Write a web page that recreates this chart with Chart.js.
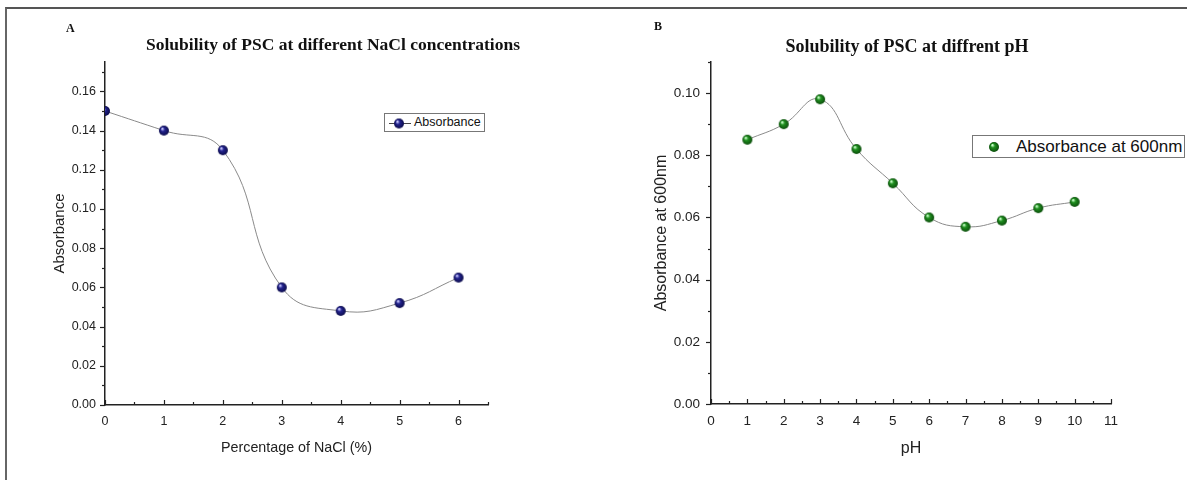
<!DOCTYPE html>
<html>
<head>
<meta charset="utf-8">
<script src="https://cdn.jsdelivr.net/npm/chart.js@4.4.1/dist/chart.umd.min.js"></script>
<style>
    body { margin: 0; background: #fff; }
    #wrap { position: relative; width: 1187px; height: 480px; overflow: hidden; font-family: Arial, "Liberation Sans", sans-serif; }
    #frame { position: absolute; left: 5px; top: 7px; width: 1200px; height: 500px; border-top: 2px solid #555; border-left: 2px solid #666; }
    canvas { position: absolute; top: 0; }
    .panel { position: absolute; font: bold 12px "Liberation Serif", "Times New Roman", serif; color: #111; }
    .title { position: absolute; font: bold 17.5px "Liberation Serif", "Times New Roman", serif; color: #111; white-space: nowrap; transform: translateX(-50%); }
    .legend { position: absolute; border: 1px solid #777; background: #fff; color: #111; white-space: nowrap; box-sizing: border-box; }
</style>
</head>
<body>
<div id="wrap">
    <div id="frame"></div>
    <canvas id="chartA" width="595" height="480" style="left:0;width:595px;height:480px"></canvas>
    <canvas id="chartB" width="592" height="480" style="left:595px;width:592px;height:480px"></canvas>

    <div class="panel" style="left:66px;top:21px">A</div>
    <div class="title" style="left:333px;top:34px">Solubility of PSC at different NaCl concentrations</div>
    <div class="legend" id="legA" style="left:384px;top:113px;width:101px;height:19px;font-size:12.5px;line-height:17px">
        <canvas id="legSymA" width="24" height="17" style="position:absolute;left:3px;top:0"></canvas>
        <span style="position:absolute;left:29px;top:0">Absorbance</span>
    </div>

    <div class="panel" style="left:654px;top:19px">B</div>
    <div class="title" style="left:907px;top:36px;font-size:18px">Solubility of PSC at diffrent pH</div>
    <div class="legend" id="legB" style="left:972px;top:135px;width:213px;height:23px;font-size:17px;line-height:21px">
        <canvas id="legSymB" width="16" height="21" style="position:absolute;left:13px;top:0"></canvas>
        <span style="position:absolute;left:43px;top:0">Absorbance at 600nm</span>
    </div>
</div>

<script>
// Panel A: NaCl concentration
const naclPct = [0, 1, 2, 3, 4, 5, 6];
const naclAbs = [0.150, 0.140, 0.130, 0.060, 0.048, 0.052, 0.065];
const naclTicks = [0, 1, 2, 3, 4, 5, 6];
const absTicksA = [0, 0.02, 0.04, 0.06, 0.08, 0.10, 0.12, 0.14, 0.16];

// Panel B: pH
const phVals = [1, 2, 3, 4, 5, 6, 7, 8, 9, 10];
const phAbs = [0.085, 0.090, 0.098, 0.082, 0.071, 0.060, 0.057, 0.059, 0.063, 0.065];
const phTicks = [0, 1, 2, 3, 4, 5, 6, 7, 8, 9, 10, 11];
const absTicksB = [0, 0.02, 0.04, 0.06, 0.08, 0.10];

// little shaded ball used as point marker
function makeBall(r, base, dark, light) {
    const c = document.createElement('canvas');
    c.width = c.height = r * 2 + 2;
    const ctx = c.getContext('2d');
    const g = ctx.createRadialGradient(r + 1 - r * 0.35, r + 1 - r * 0.4, r * 0.1, r + 1, r + 1, r);
    g.addColorStop(0, light);
    g.addColorStop(0.35, base);
    g.addColorStop(1, dark);
    ctx.fillStyle = g;
    ctx.beginPath();
    ctx.arc(r + 1, r + 1, r, 0, Math.PI * 2);
    ctx.fill();
    return c;
}

const ballA = makeBall(5, '#23238f', '#0c0c4a', '#c8c8ff');
const ballB = makeBall(5, '#1f8f1f', '#0b4d0b', '#c8ffc8');

function isOn(v, list) {
    return list.some(t => Math.abs(t - v) < 1e-9);
}

// draws major / minor tick marks through the scales
const tickMarks = {
    id: 'tickMarks',
    afterDraw(chart, args, opts) {
        const ctx = chart.ctx;
        const area = chart.chartArea;
        ctx.save();
        ctx.strokeStyle = '#222';
        ctx.lineWidth = 1.2;
        const xs = chart.scales.x, ys = chart.scales.y;
        opts.xMajor.forEach(v => {
            const px = Math.round(xs.getPixelForValue(v)) + 0.5;
            ctx.beginPath(); ctx.moveTo(px, area.bottom); ctx.lineTo(px, area.bottom - 5); ctx.stroke();
        });
        opts.xMinor.forEach(v => {
            const px = Math.round(xs.getPixelForValue(v)) + 0.5;
            ctx.beginPath(); ctx.moveTo(px, area.bottom); ctx.lineTo(px, area.bottom - 3); ctx.stroke();
        });
        opts.yMajor.forEach(v => {
            const py = Math.round(ys.getPixelForValue(v)) + 0.5;
            ctx.beginPath(); ctx.moveTo(area.left, py); ctx.lineTo(area.left - 5, py); ctx.stroke();
        });
        opts.yMinor.forEach(v => {
            const py = Math.round(ys.getPixelForValue(v)) + 0.5;
            ctx.beginPath(); ctx.moveTo(area.left, py); ctx.lineTo(area.left - 3, py); ctx.stroke();
        });
        ctx.restore();
    }
};

function halfSteps(list, step) {
    return list.map(v => v + step / 2);
}

function makeChart(el, cfg) {
    return new Chart(document.getElementById(el), {
        type: 'line',
        data: {
            datasets: [{
                label: cfg.label,
                data: cfg.xs.map((x, i) => ({ x: x, y: cfg.ys[i] })),
                borderColor: '#8a8a8a',
                borderWidth: 1,
                tension: 0.45,
                pointStyle: cfg.ball,
                pointRadius: 5,
                fill: false
            }]
        },
        options: {
            responsive: false,
            animation: false,
            layout: { padding: cfg.padding },
            plugins: {
                legend: { display: false },
                title: { display: false },
                tooltip: { enabled: false },
                tickMarks: {
                    xMajor: cfg.xTicks,
                    xMinor: halfSteps(cfg.xTicks, 1).filter(v => v <= cfg.xMax),
                    yMajor: cfg.yTicks,
                    yMinor: halfSteps(cfg.yTicks, 0.02).filter(v => v <= cfg.yMax)
                }
            },
            scales: {
                x: {
                    type: 'linear',
                    min: 0,
                    max: cfg.xMax,
                    afterFit: s => { s.height = cfg.xAxisH; },
                    ticks: {
                        stepSize: 1,
                        includeBounds: false,
                        padding: cfg.xTickPad,
                        color: '#222',
                        font: { size: cfg.tickSize, family: 'Arial' },
                        callback: v => isOn(v, cfg.xTicks) ? String(v) : ''
                    },
                    grid: { drawOnChartArea: false, drawTicks: false },
                    border: { color: '#222', width: 1.5 },
                    title: {
                        display: true,
                        text: cfg.xTitle,
                        color: '#222',
                        font: { size: cfg.xTitleSize, family: 'Arial' },
                        padding: { top: 4, bottom: 4 }
                    }
                },
                y: {
                    min: 0,
                    max: cfg.yMax,
                    afterFit: s => { s.width = cfg.yAxisW; },
                    ticks: {
                        stepSize: 0.02,
                        includeBounds: false,
                        padding: cfg.yTickPad,
                        color: '#222',
                        font: { size: cfg.tickSize, family: 'Arial' },
                        callback: v => isOn(v, cfg.yTicks) ? v.toFixed(2) : ''
                    },
                    grid: { drawOnChartArea: false, drawTicks: false },
                    border: { color: '#222', width: 1.5 },
                    title: {
                        display: true,
                        text: cfg.yTitle,
                        color: '#222',
                        font: { size: cfg.yTitleSize, family: 'Arial' },
                        padding: { top: cfg.yTitlePad, bottom: 4 }
                    }
                }
            }
        },
        plugins: [tickMarks]
    });
}

makeChart('chartA', {
    label: 'Absorbance',
    xs: naclPct, ys: naclAbs,
    xTicks: naclTicks, yTicks: absTicksA,
    xMax: 6.5, yMax: 0.175,
    ball: ballA,
    xTitle: 'Percentage of NaCl (%)', yTitle: 'Absorbance',
    tickSize: 12.5, xTitleSize: 14.3, yTitleSize: 15,
    padding: { left: 45, right: 107, top: 62, bottom: 19 },
    yAxisW: 60, xAxisH: 56, xTickPad: 9, yTickPad: 9, yTitlePad: 6
});

makeChart('chartB', {
    label: 'Absorbance at 600nm',
    xs: phVals, ys: phAbs,
    xTicks: phTicks, yTicks: absTicksB,
    xMax: 11, yMax: 0.11,
    ball: ballB,
    xTitle: 'pH', yTitle: 'Absorbance at 600nm',
    tickSize: 13.5, xTitleSize: 16, yTitleSize: 16,
    padding: { left: 52, right: 76, top: 62, bottom: 18 },
    yAxisW: 64, xAxisH: 58, xTickPad: 9, yTickPad: 11, yTitlePad: 5
});

// legend symbols
const la = document.getElementById('legSymA').getContext('2d');
la.strokeStyle = '#444';
la.lineWidth = 1;
la.beginPath(); la.moveTo(1, 9.5); la.lineTo(23, 9.5); la.stroke();
la.drawImage(ballA, 11 - 6, 9.5 - 6);

const lb = document.getElementById('legSymB').getContext('2d');
lb.drawImage(ballB, 8 - 6, 11 - 6);
</script>
</body>
</html>
